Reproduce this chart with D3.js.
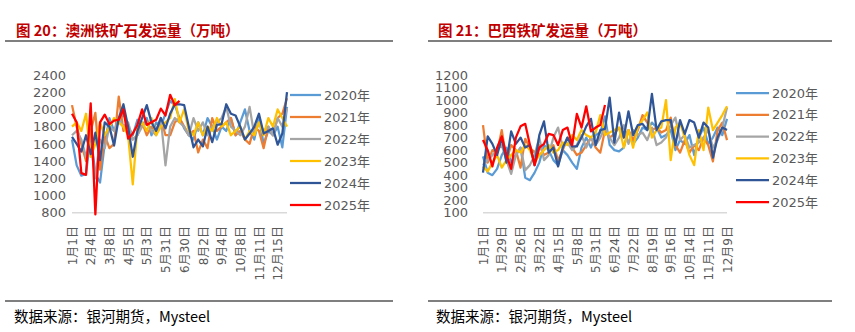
<!DOCTYPE html>
<html><head><meta charset="utf-8">
<script src="https://cdn.jsdelivr.net/npm/d3@7"></script>
<style>
html,body{margin:0;padding:0;background:#fff;}
svg{display:block;}
</style></head>
<body>
<svg id="c" width="855" height="332"></svg>
<script>
// ---------- DATA ----------
const seriesNames = ["2020年","2021年","2022年","2023年","2024年","2025年"];
const seriesColors = ["#5B9BD5","#ED7D31","#A5A5A5","#FFC000","#2F5597","#FF0000"];

// Australia (left)
const ausCategories = ["1月1日","1月8日","1月15日","1月22日","2月4日","2月11日","2月18日","2月25日","3月8日","3月15日","3月22日","3月29日","4月5日","4月12日","4月19日","4月26日","5月3日","5月10日","5月17日","5月24日","5月31日","6月7日","6月14日","6月21日","6月30日","7月7日","7月14日","7月21日","8月2日","8月9日","8月16日","8月23日","9月4日","9月11日","9月18日","9月25日","10月8日","10月15日","10月22日","10月29日","11月11日","11月18日","11月25日","12月2日","12月15日","12月22日","12月29日"];
const ausTicks = [800,1000,1200,1400,1600,1800,2000,2200,2400];
const aus2020 = [1650,1350,1230,1250,1700,1250,1150,1600,1900,1750,1850,1950,1800,1700,1880,1800,1900,1700,1850,1800,1950,2100,2050,1900,1780,1700,1650,1850,1700,1900,1800,1650,1800,1750,1900,1700,1850,2000,1750,1650,1900,1600,1750,1700,1800,1560,2030];
const aus2021 = [2050,1800,1600,1400,1750,1960,1300,1700,1550,1600,2150,1750,1800,1650,1700,1850,1700,1800,1750,1900,1700,1700,1850,1900,1800,1700,1750,1500,1650,1550,1900,1750,1800,1850,1900,1700,1750,1650,1600,1800,1750,1550,1800,1700,1900,1950,2130];
const aus2022 = [1700,1750,1650,1450,1600,1200,1650,1550,1800,1750,1900,1800,1850,1650,1700,1800,1850,1750,1700,1900,1350,1800,1900,1850,1800,1700,1900,1750,1850,1700,1800,1850,1900,2030,1800,1750,1700,1800,2030,1700,1850,1750,1800,1700,1900,1800,2020];
const aus2023 = [1800,1850,1750,1950,1450,1600,1850,1700,1800,1900,1850,1800,1700,1130,1800,1850,1750,1900,1700,1800,1850,1900,2120,1850,2000,1750,1700,1850,1700,1800,1750,1900,1800,1850,1700,1750,1800,1650,1750,1700,1850,1700,1900,1800,2000,1900,1800];
const aus2024 = [1680,1600,1510,1700,1480,1730,1410,1850,1800,1580,1900,2060,1800,1450,1750,1900,2050,1850,1750,1900,1780,1950,2060,2060,2050,1800,1560,1650,1570,1800,1620,1820,1830,2060,1950,1930,1800,1650,1720,1800,1950,1720,1750,1780,1590,1720,2200];
const aus2025 = [1950,1850,1260,1240,2070,780,1850,1940,1830,1870,1880,2000,1660,1720,1820,2000,1820,1850,1880,2010,1930,2170,2050,2100];

// Brazil (right)
const braCategories = ["1月1日","1月8日","1月15日","1月22日","1月29日","2月5日","2月12日","2月19日","2月26日","3月4日","3月11日","3月15日","3月22日","3月29日","4月5日","4月8日","4月15日","4月22日","4月29日","5月1日","5月8日","5月15日","5月22日","5月26日","5月31日","6月7日","6月14日","6月17日","6月24日","7月1日","7月8日","7月15日","7月22日","7月29日","8月5日","8月12日","8月19日","8月26日","9月2日","9月9日","9月16日","9月23日","9月30日","10月7日","10月14日","10月21日","10月28日","11月4日","11月11日","11月18日","11月25日","12月2日","12月9日"];
const braTicks = [100,200,300,400,500,600,700,800,900,1000,1100,1200];
const bra2020 = [550,420,400,450,560,620,500,560,620,380,360,420,500,640,600,520,480,600,560,500,450,620,700,620,720,740,870,640,600,590,620,760,650,700,780,760,820,780,700,720,760,600,680,650,720,560,700,780,650,700,780,720,850];
const bra2021 = [800,500,600,580,760,520,640,600,460,690,620,580,640,560,580,640,520,600,700,620,560,580,640,700,620,580,760,700,730,780,700,760,680,760,880,820,760,780,740,760,860,640,580,680,580,640,600,700,640,510,760,820,680];
const bra2022 = [480,520,560,600,640,520,410,560,620,440,480,560,700,520,560,700,780,620,660,600,640,720,620,700,640,700,780,700,640,700,800,650,760,720,740,680,780,640,660,700,800,860,680,720,620,640,660,700,760,620,680,780,940];
const bra2023 = [470,430,500,560,460,520,560,600,580,640,600,500,560,600,640,580,600,660,640,720,680,760,720,700,740,880,720,740,760,780,620,760,620,780,840,900,700,760,780,1000,520,780,820,700,560,480,760,600,940,760,820,880,950];
const bra2024 = [420,710,650,560,700,500,750,650,700,620,640,480,720,830,580,620,470,620,700,630,630,700,790,850,640,760,770,1020,660,900,700,910,720,800,810,760,1050,760,830,840,840,640,840,730,840,820,700,820,780,540,700,780,760];
const bra2025 = [680,600,470,620,710,560,450,700,790,810,640,480,620,650,730,720,640,760,780,640,890,780,950,750,780,800,960];

// ---------- DRAW ----------
const svg = d3.select("#c");
const NUMFONT = "'DejaVu Sans', 'Noto Sans CJK SC', sans-serif";
const CJK = "'Noto Sans CJK SC', sans-serif";

function panel(cfg) {
  const g = svg.append("g");
  // title
  g.append("text").attr("x", cfg.titleX).attr("y", 36)
    .attr("font-family", CJK).attr("font-weight", "bold").attr("font-size", 14.5)
    .attr("fill", "#C00000").text(cfg.title);
  g.append("line").attr("x1", cfg.lineX1).attr("x2", cfg.lineX2).attr("y1", 41).attr("y2", 41)
    .attr("stroke", "#000").attr("stroke-width", 1.2);
  // source
  g.append("line").attr("x1", cfg.lineX1).attr("x2", cfg.lineX2).attr("y1", 301).attr("y2", 301)
    .attr("stroke", "#000").attr("stroke-width", 1.2);
  g.append("text").attr("x", cfg.titleX - 2).attr("y", 322)
    .attr("font-family", CJK).attr("font-size", 14.5).attr("fill", "#000")
    .text("数据来源：银河期货，Mysteel");

  const x = d3.scalePoint().domain(cfg.categories).range(cfg.xRange);
  const y = d3.scaleLinear().domain([cfg.ticks[0], cfg.ticks[cfg.ticks.length-1]]).range([212.7, 75]);

  // baseline axis
  g.append("line").attr("x1", cfg.xRange[0]).attr("x2", cfg.xRange[1])
    .attr("y1", y(cfg.ticks[0])).attr("y2", y(cfg.ticks[0]))
    .attr("stroke", "#D9D9D9").attr("stroke-width", 1.5);

  // y axis
  const ya = d3.axisLeft(y).tickValues(cfg.ticks).tickSize(0).tickPadding(0).tickFormat(d3.format("d"));
  const yg = g.append("g").attr("transform", `translate(${cfg.yLabelX},0)`).call(ya);
  yg.select(".domain").remove();
  yg.selectAll("text").attr("font-family", NUMFONT).attr("font-size", 13).attr("fill", "#595959");

  // x axis labels (every 4th)
  const xa = d3.axisBottom(x).tickValues(cfg.categories.filter((d,i)=>i%4===0)).tickSize(0).tickPadding(0);
  const xg = g.append("g").attr("transform", `translate(0,226)`).call(xa);
  xg.select(".domain").remove();
  xg.selectAll("text").attr("font-family", NUMFONT).attr("font-size", 12).attr("fill", "#595959")
    .attr("transform", "rotate(-90)").attr("text-anchor", "end").attr("dy", "0.35em").attr("x", 0).attr("y", 0);

  // lines
  const line = d3.line().x((d,i)=>x(cfg.categories[i])).y(d=>y(d));
  cfg.series.forEach((s, k) => {
    g.append("path").datum(s).attr("d", line).attr("fill", "none")
      .attr("stroke", seriesColors[k]).attr("stroke-width", 2.25).attr("stroke-linejoin", "round");
  });

  // legend
  seriesNames.forEach((n, k) => {
    const yy = cfg.legY0 + k * cfg.legDy;
    g.append("line").attr("x1", cfg.legX).attr("x2", cfg.legX + cfg.legLen).attr("y1", yy).attr("y2", yy)
      .attr("stroke", seriesColors[k]).attr("stroke-width", 2.25);
    g.append("text").attr("x", cfg.legX + cfg.legLen + 3).attr("y", yy).attr("dy", "0.36em")
      .attr("font-family", NUMFONT).attr("font-size", 13).attr("fill", "#595959").text(n);
  });
}

panel({
  title: "图 20：澳洲铁矿石发运量（万吨）", titleX: 16, lineX1: 5, lineX2: 393,
  categories: ausCategories, ticks: ausTicks, xRange: [72, 287], yLabelX: 66,
  series: [aus2020, aus2021, aus2022, aus2023, aus2024, aus2025],
  legX: 290, legLen: 31, legY0: 95, legDy: 22
});
panel({
  title: "图 21：巴西铁矿发运量（万吨）", titleX: 438, lineX1: 428, lineX2: 832,
  categories: braCategories, ticks: braTicks, xRange: [483, 727], yLabelX: 468,
  series: [bra2020, bra2021, bra2022, bra2023, bra2024, bra2025],
  legX: 736, legLen: 33, legY0: 93, legDy: 21.8
});
</script>
</body></html>
